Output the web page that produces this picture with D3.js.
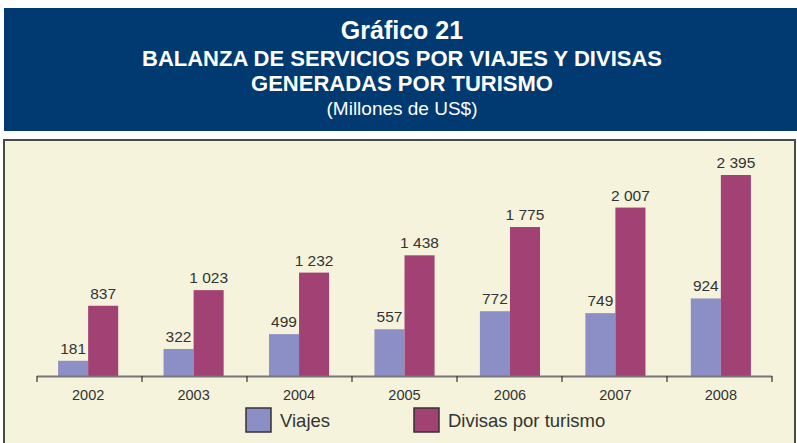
<!DOCTYPE html>
<html lang="es">
<head>
<meta charset="UTF-8"/>
<title>Gráfico 21</title>
<script src="https://d3js.org/d3.v7.min.js"></script>
<style>
  body { margin: 0; background: #fff; }
  svg { display: block; font-family: "Liberation Sans", Arial, sans-serif; }
</style>
</head>
<body>
<script>
    // Data
    var years = ["2002", "2003", "2004", "2005", "2006", "2007", "2008"];
    var viajes = [181, 322, 499, 557, 772, 749, 924];
    var divisas = [837, 1023, 1232, 1438, 1775, 2007, 2395];
    var seriesNames = ["Viajes", "Divisas por turismo"];
    var seriesColours = ["#8c8fc5", "#a14174"];

    var w = 797, h = 443;

    var svg = d3.select("body")
        .append("svg")
        .attr("width", w)
        .attr("height", h);

    // Header box
    svg.append("rect")
        .attr("x", 4).attr("y", 8)
        .attr("width", w - 4).attr("height", 123)
        .attr("fill", "#003a70");

    var titles = [
        {t: "Gráfico 21", y: 39, size: 25, weight: "bold"},
        {t: "BALANZA DE SERVICIOS POR VIAJES Y DIVISAS", y: 66, size: 22, weight: "bold"},
        {t: "GENERADAS POR TURISMO", y: 91, size: 22, weight: "bold"},
        {t: "(Millones de US$)", y: 115, size: 19, weight: "normal"}
    ];
    svg.selectAll("text.title")
        .data(titles)
        .enter()
        .append("text")
        .attr("class", "title")
        .attr("x", 402)
        .attr("y", function(d) { return d.y; })
        .attr("text-anchor", "middle")
        .attr("font-size", function(d) { return d.size + "px"; })
        .attr("font-weight", function(d) { return d.weight; })
        .attr("fill", "#fff")
        .text(function(d) { return d.t; });

    // Chart panel
    svg.append("rect")
        .attr("x", 4).attr("y", 140)
        .attr("width", w - 6).attr("height", h - 136)
        .attr("fill", "#f5f3dc")
        .attr("stroke", "#4a4a4a")
        .attr("stroke-width", 2);

    // Scales
    var x = d3.scaleBand()
        .domain(years)
        .range([37, 772])
        .paddingInner(0.43)
        .paddingOuter(0.2);

    var xSub = d3.scaleBand()
        .domain([0, 1])
        .range([0, x.bandwidth()]);

    var y = d3.scaleLinear()
        .domain([0, 2500])
        .range([376, 166.2]);

    var fmt = function(v) { return d3.format(",")(v).replace(/,/g, " "); };

    // Bars
    var groups = svg.selectAll("g.year")
        .data(years)
        .enter()
        .append("g")
        .attr("class", "year")
        .attr("transform", function(d) { return "translate(" + x(d) + ",0)"; });

    [viajes, divisas].forEach(function(series, s) {
        groups.append("rect")
            .attr("x", xSub(s))
            .attr("width", xSub.bandwidth())
            .attr("y", function(d, i) { return y(series[i]); })
            .attr("height", function(d, i) { return y(0) - y(series[i]); })
            .attr("fill", seriesColours[s]);

        groups.append("text")
            .attr("x", xSub(s) + xSub.bandwidth() / 2)
            .attr("y", function(d, i) { return y(series[i]) - 7; })
            .attr("text-anchor", "middle")
            .attr("font-size", "15.5px")
            .attr("fill", "#333")
            .text(function(d, i) { return fmt(series[i]); });
    });

    // X axis with ticks between categories
    var axisG = svg.append("g");
    axisG.append("line")
        .attr("x1", 37).attr("x2", 772)
        .attr("y1", 376.5).attr("y2", 376.5)
        .attr("stroke", "#777").attr("stroke-width", 2);

    var tickPos = d3.range(years.length + 1).map(function(i) { return 37 + i * (735 / years.length); });
    axisG.selectAll("line.tick")
        .data(tickPos)
        .enter()
        .append("line")
        .attr("class", "tick")
        .attr("x1", function(d) { return d; })
        .attr("x2", function(d) { return d; })
        .attr("y1", 376).attr("y2", 382)
        .attr("stroke", "#333").attr("stroke-width", 1.2);

    axisG.selectAll("text.year")
        .data(years)
        .enter()
        .append("text")
        .attr("class", "year")
        .attr("x", function(d) { return x(d) + x.bandwidth() / 2; })
        .attr("y", 400)
        .attr("text-anchor", "middle")
        .attr("font-size", "14.5px")
        .attr("fill", "#333")
        .text(function(d) { return d; });

    // Legend
    var legendX = [246, 414];
    var legend = svg.selectAll("g.legend")
        .data(seriesNames)
        .enter()
        .append("g")
        .attr("class", "legend")
        .attr("transform", function(d, i) { return "translate(" + legendX[i] + ",408)"; });

    legend.append("rect")
        .attr("width", 25).attr("height", 24)
        .attr("fill", function(d, i) { return seriesColours[i]; })
        .attr("stroke", "#333").attr("stroke-width", 1.5);

    legend.append("text")
        .attr("x", 34).attr("y", 19)
        .attr("font-size", "18.5px")
        .attr("fill", "#333")
        .text(function(d) { return d; });
</script>
</body>
</html>
